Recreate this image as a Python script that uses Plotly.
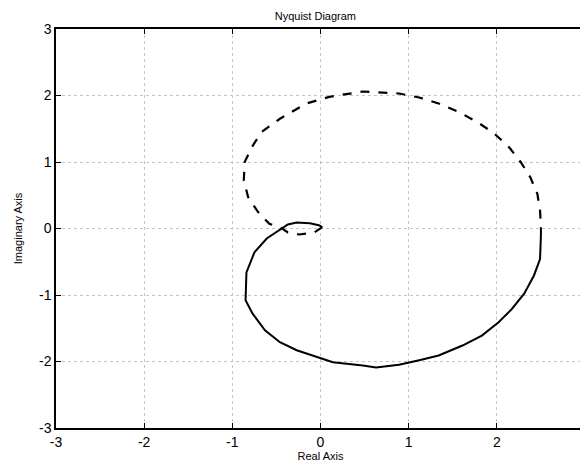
import plotly.graph_objects as go

# Positive-frequency branch (solid)
solid_re = [2.50, 2.50, 2.49, 2.42, 2.31, 2.17, 2.02, 1.83, 1.61, 1.34, 1.12, 0.89,
            0.63, 0.48, 0.14, -0.09, -0.27, -0.46, -0.63, -0.77, -0.85, -0.84,
            -0.75, -0.61, -0.46, -0.37, -0.27, -0.12, -0.02, 0.02]
solid_im = [0.02, -0.10, -0.46, -0.71, -0.98, -1.21, -1.41, -1.61, -1.76, -1.91, -1.98, -2.05,
            -2.09, -2.06, -2.01, -1.91, -1.83, -1.71, -1.53, -1.28, -1.08, -0.66,
            -0.36, -0.15, -0.02, 0.06, 0.09, 0.08, 0.05, 0.02]

# Negative-frequency branch (dashed)
dashed_re = [0.02, -0.07, -0.24, -0.37, -0.46, -0.58, -0.71, -0.82, -0.87, -0.86,
             -0.78, -0.67, -0.46, -0.16, 0.10, 0.48, 0.89, 1.12, 1.34, 1.57, 1.78,
             1.97, 2.14, 2.27, 2.38, 2.46, 2.49, 2.50]
dashed_im = [0.02, -0.06, -0.09, -0.06, 0.02, 0.07, 0.25, 0.47, 0.72, 1.00,
             1.22, 1.45, 1.65, 1.88, 1.98, 2.06, 2.03, 1.97, 1.88, 1.75, 1.60,
             1.43, 1.22, 1.00, 0.77, 0.52, 0.27, 0.02]

tick_vals = [-3, -2, -1, 0, 1, 2, 3]
tick_text = ["-3", "-2", "-1", "0", "1", "2", "3"]
x_tick_vals = [-3, -2, -1, 0, 1, 2]
x_tick_text = ["-3", "-2", "-1", "0", "1", "2"]

fig = go.Figure()
fig.add_trace(go.Scatter(x=dashed_re, y=dashed_im, mode="lines",
                         line=dict(color="black", width=2.2, dash="dash"),
                         showlegend=False))
fig.add_trace(go.Scatter(x=solid_re, y=solid_im, mode="lines",
                         line=dict(color="black", width=2),
                         showlegend=False))

font_family = "Liberation Sans, Arial, sans-serif"
axis_common = dict(
    showgrid=True, gridcolor="#c4c4c4", griddash="dot", gridwidth=1,
    zeroline=False, showline=True, linecolor="black", linewidth=1.5,
    mirror="ticks", ticks="inside", ticklen=5, tickcolor="black",
    tickfont=dict(family=font_family, size=14, color="black"),
)
fig.update_layout(
    width=580, height=464,
    margin=dict(l=48, r=1, t=21, b=44),
    paper_bgcolor="white", plot_bgcolor="white",
    title=dict(text="Nyquist Diagram", x=0.53, xanchor="center", y=0.99, yanchor="top",
               font=dict(family=font_family, size=11, color="black")),
    xaxis=dict(range=[-3, 3], tickvals=x_tick_vals, ticktext=x_tick_text,
               title=dict(text="Real Axis", standoff=4,
                          font=dict(family=font_family, size=11, color="black")),
               **axis_common),
    yaxis=dict(range=[-3, 3], tickvals=tick_vals, ticktext=tick_text,
               title=dict(text="Imaginary Axis", standoff=14,
                          font=dict(family=font_family, size=11, color="black")),
               **axis_common),
)
fig.write_html("out.html")
